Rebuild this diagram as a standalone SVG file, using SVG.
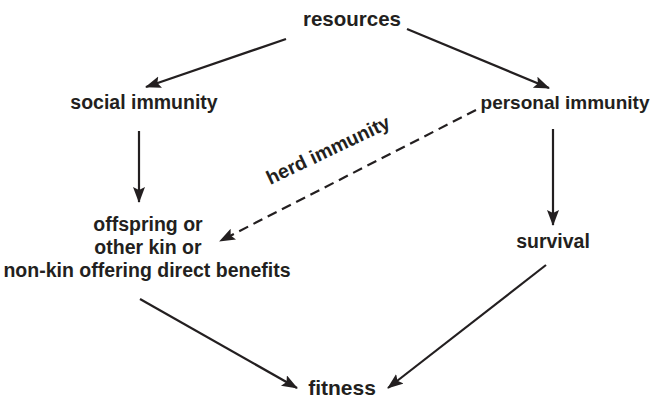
<svg xmlns="http://www.w3.org/2000/svg" width="652" height="399" viewBox="0 0 652 399">
<defs>
<marker id="ah" markerUnits="userSpaceOnUse" markerWidth="18" markerHeight="14" refX="15" refY="6" orient="auto">
<path d="M0,0 L16,6 L0,12 L3,6 z" fill="#231f20"/>
</marker>
</defs>
<style>
text{font-family:"Liberation Sans",Arial,sans-serif;font-weight:bold;fill:#231f20;text-anchor:middle}
.n{font-size:19.5px}
.b{font-size:20.5px}
.c{stroke:#231f20;stroke-width:2.2;fill:none;marker-end:url(#ah)}
.d{stroke-dasharray:10 6}
</style>
<rect width="652" height="399" fill="#fff"/>
<g id="connectors">
<line class="c" x1="286" y1="39" x2="146" y2="87"/>
<line class="c" x1="407" y1="29" x2="549" y2="88"/>
<line class="c" x1="139" y1="131" x2="139" y2="202"/>
<line class="c" x1="553" y1="129" x2="553" y2="225"/>
<line class="c" x1="140" y1="299" x2="297" y2="388"/>
<line class="c" x1="546" y1="265" x2="388" y2="388"/>
<line class="c d" x1="476" y1="110" x2="220" y2="241"/>
<text class="n" transform="translate(331,156) rotate(-25.5)">herd immunity</text>
</g>
<g id="resources"><text class="b" x="352" y="26">resources</text></g>
<g id="social-immunity"><text class="n" x="144" y="109">social immunity</text></g>
<g id="personal-immunity"><text class="n" x="565" y="109" style="font-size:19px">personal immunity</text></g>
<g id="kin"><text class="n" x="148" y="231">offspring or</text><text class="n" x="148" y="254">other kin or</text><text class="n" x="147" y="277">non-kin offering direct benefits</text></g>
<g id="survival"><text class="n" x="553" y="248">survival</text></g>
<g id="fitness"><text class="b" x="342" y="395" style="font-size:21px">fitness</text></g>
</svg>
